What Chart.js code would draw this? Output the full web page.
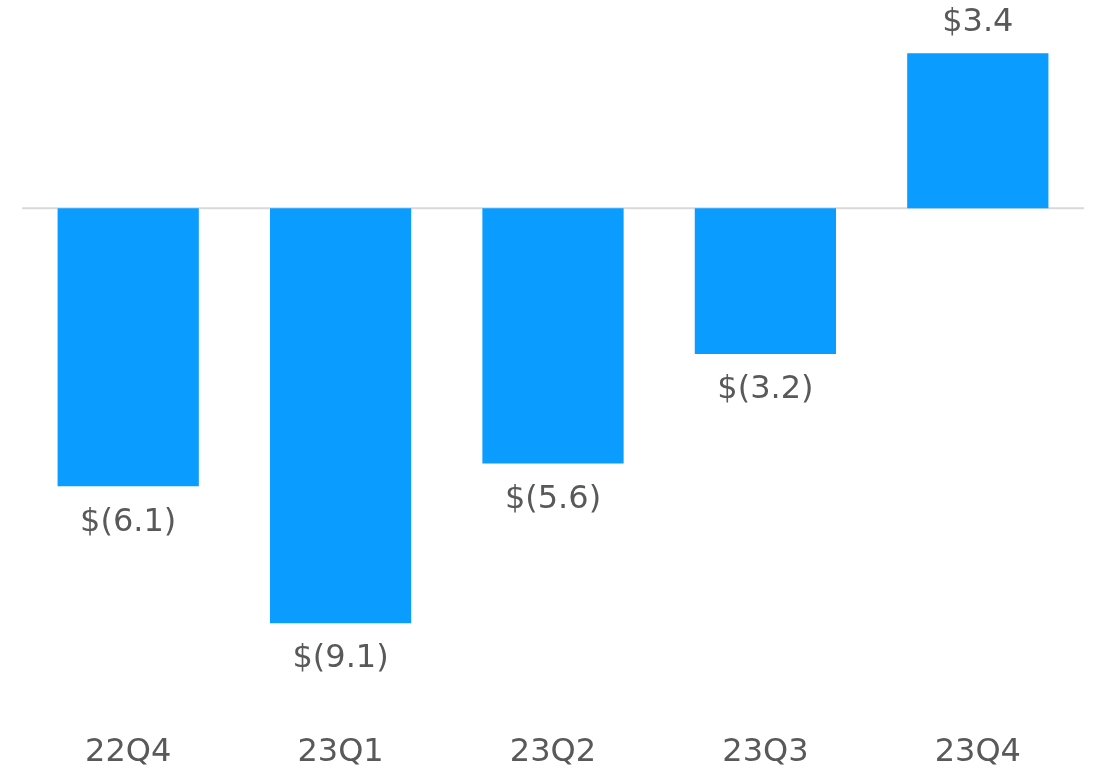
<!DOCTYPE html>
<html>
<head>
<meta charset="utf-8">
<script src="https://cdn.jsdelivr.net/npm/chart.js@4/dist/chart.umd.min.js"></script>
<style>
  html, body { margin: 0; padding: 0; background: #fff; }
  #wrap { width: 1097px; height: 776px; }
</style>
</head>
<body>
<div id="wrap"><canvas id="chart"></canvas></div>
<script>
// ── Data ──────────────────────────────────────────────────────────────────
const quarters = ['22Q4', '23Q1', '23Q2', '23Q3', '23Q4'];
const values   = [-6.1, -9.1, -5.6, -3.2, 3.4];

const TEXT_COLOR = '#595959';
const BAR_COLOR  = '#0a9dff';
const FONT       = 'DejaVu Sans, Verdana, sans-serif';
const FONT_SIZE  = 32;

function fmt(v) {
    return v < 0 ? `$(${Math.abs(v).toFixed(1)})` : `$${v.toFixed(1)}`;
}

// zero line + value labels at bar ends
const barLabels = {
    id: 'barLabels',
    beforeDatasetsDraw(chart) {
        const { ctx, chartArea, scales } = chart;
        const y0 = scales.y.getPixelForValue(0);
        ctx.save();
        ctx.strokeStyle = '#d9d9d9';
        ctx.lineWidth = 2;
        ctx.beginPath();
        ctx.moveTo(chartArea.left, y0);
        ctx.lineTo(chartArea.right, y0);
        ctx.stroke();
        ctx.restore();
    },
    afterDatasetsDraw(chart) {
        const { ctx } = chart;
        const meta = chart.getDatasetMeta(0);
        ctx.save();
        ctx.font = `${FONT_SIZE}px ${FONT}`;
        ctx.fillStyle = TEXT_COLOR;
        ctx.textAlign = 'center';
        ctx.textBaseline = 'middle';
        meta.data.forEach((bar, i) => {
            const v = values[i];
            const y = v < 0 ? bar.y + 36 : bar.y - 30;
            ctx.fillText(fmt(v), bar.x, y);
        });
        ctx.restore();
    }
};

new Chart(document.getElementById('chart').getContext('2d'), {
    type: 'bar',
    data: {
        labels: quarters,
        datasets: [{
            data: values,
            backgroundColor: BAR_COLOR,
            borderWidth: 0,
            barPercentage: 0.665,
            categoryPercentage: 1
        }]
    },
    options: {
        responsive: true,
        maintainAspectRatio: false,
        animation: false,
        layout: { padding: { top: 3, bottom: 6, left: 22, right: 13 } },
        plugins: {
            legend: { display: false },
            tooltip: { enabled: false }
        },
        scales: {
            x: {
                grid: { display: false, drawTicks: false },
                border: { display: false },
                ticks: { color: TEXT_COLOR, font: { size: FONT_SIZE, family: FONT }, padding: 46 },
                afterFit: scale => { scale.height = 83; }
            },
            y: {
                display: false,
                min: -10.5,
                max: 4.5
            }
        }
    },
    plugins: [barLabels]
});
</script>
</body>
</html>
